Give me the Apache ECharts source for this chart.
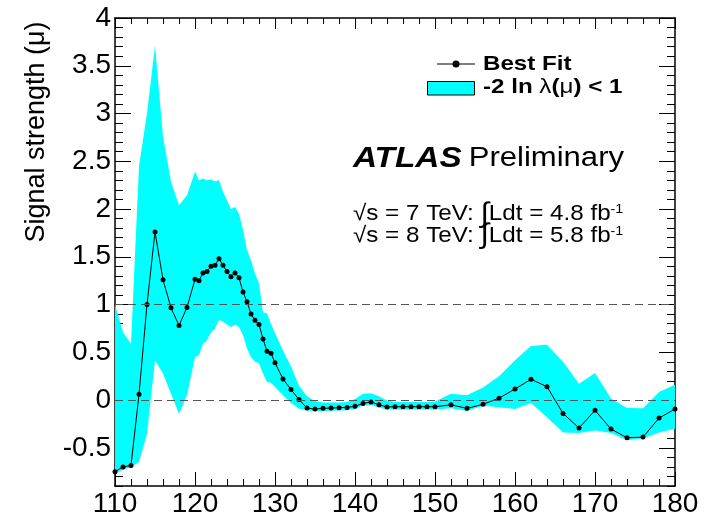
<!DOCTYPE html>
<html>
<head>
<meta charset="utf-8">
<script src="https://cdn.jsdelivr.net/npm/echarts@6/dist/echarts.min.js"></script>
<style>
  html, body { margin: 0; padding: 0; background: #ffffff; }
  #chart { width: 717px; height: 518px; }
</style>
</head>
<body>
<div id="chart"></div>
<script>
// Higgs boson mass hypothesis (GeV)
const mass = [110, 111, 112, 113, 114, 115, 116, 117, 118, 119, 120,
  120.5, 121, 121.5, 122, 122.5, 123, 123.5, 124, 124.5, 125, 125.5, 126, 126.5,
  127, 127.5, 128, 128.5, 129, 129.5, 130,
  131, 132, 133, 134, 135, 136, 137, 138, 139, 140, 141, 142, 143, 144, 145,
  146, 147, 148, 149, 150,
  152, 154, 156, 158, 160, 162, 164, 166, 168, 170, 172, 174, 176, 178, 180];

// Best-fit signal strength mu
const bestFit = [-0.75, -0.70, -0.685, 0.06, 1.0, 1.76, 1.26, 0.965, 0.78, 0.97, 1.265,
  1.25, 1.33, 1.345, 1.40, 1.41, 1.48, 1.41, 1.345, 1.29, 1.33, 1.28, 1.13, 1.03,
  0.90, 0.835, 0.79, 0.64, 0.51, 0.49, 0.39,
  0.22, 0.11, 0.005, -0.084, -0.094, -0.087, -0.084, -0.08, -0.077, -0.066, -0.035, -0.02, -0.05, -0.073, -0.07,
  -0.07, -0.07, -0.07, -0.07, -0.07,
  -0.05, -0.087, -0.045, 0.02, 0.115, 0.217, 0.14, -0.14, -0.293, -0.108, -0.304, -0.395, -0.388, -0.189, -0.094];

// Upper edge of the -2 ln lambda(mu) < 1 interval
const bandUpper = [1.0, 0.71, 0.59, 2.45, 3.0, 3.71, 2.76, 2.285, 2.04, 2.145, 2.39,
  2.30, 2.32, 2.30, 2.31, 2.29, 2.30, 2.18, 2.09, 2.0, 2.02, 1.95, 1.78, 1.57,
  1.46, 1.325, 1.22, 0.92, 0.905, 0.80, 0.70,
  0.52, 0.35, 0.15, 0.04, -0.01, -0.025, -0.025, -0.025, -0.02, 0.01, 0.067, 0.07, 0.04, -0.005, -0.02,
  -0.02, -0.02, -0.02, -0.02, -0.015,
  0.067, 0.05, 0.13, 0.25, 0.416, 0.566, 0.58, 0.40, 0.17, 0.283, 0.015, -0.084, -0.087, 0.084, 0.16];

// Lower edge of the -2 ln lambda(mu) < 1 interval
const bandLower = [-0.77, -0.73, -0.70, -0.65, -0.35, 0.416, 0.277, 0.067, -0.143, 0.05, 0.45,
  0.47, 0.59, 0.625, 0.71, 0.75, 0.84, 0.82, 0.79, 0.765, 0.79, 0.765, 0.68, 0.54,
  0.45, 0.40, 0.385, 0.277, 0.19, 0.18, 0.136,
  0.05, -0.03, -0.09, -0.11, -0.115, -0.115, -0.112, -0.11, -0.108, -0.095, -0.055, -0.05, -0.08, -0.10, -0.10,
  -0.10, -0.10, -0.10, -0.10, -0.10,
  -0.085, -0.115, -0.06, -0.076, -0.094, -0.03, -0.18, -0.34, -0.345, -0.32, -0.345, -0.42, -0.40, -0.34, -0.30];

// Labelled y ticks and the 0.1 minor ticks
const yTickLabels = [-0.5, 0, 0.5, 1, 1.5, 2, 2.5, 3, 3.5, 4];
const yMinorTicks = [];
for (let k = -9; k <= 40; k++) yMinorTicks.push(k / 10);

const Y_MIN = -0.9, Y_MAX = 4;
const X_MIN = 110, X_MAX = 180;
const FONT = '"Liberation Sans", Arial, Helvetica, sans-serif';
const BLACK = '#000000';
const CYAN = '#00ffff';

function xAxisDef(position, majorLen, minorLen, withLabels) {
  return {
    type: 'value', position: position, min: X_MIN, max: X_MAX, interval: 10,
    axisLine: { show: true, onZero: false, lineStyle: { color: BLACK, width: 1.5 } },
    axisTick: { show: true, inside: true, length: majorLen, lineStyle: { color: BLACK, width: 1 } },
    minorTick: { show: true, splitNumber: 5, length: minorLen, lineStyle: { color: BLACK, width: 1 } },
    axisLabel: { show: withLabels, color: BLACK, fontFamily: FONT, fontSize: 28, margin: 4 },
    splitLine: { show: false }, minorSplitLine: { show: false }
  };
}

function yAxisDef(position, values, len, withLine, withLabels) {
  return {
    type: 'value', position: position, min: Y_MIN, max: Y_MAX,
    axisLine: { show: withLine, onZero: false, lineStyle: { color: BLACK, width: 1.5 } },
    axisTick: { show: true, inside: true, length: len, customValues: values,
                lineStyle: { color: BLACK, width: 1 } },
    axisLabel: { show: withLabels, customValues: values, color: BLACK,
                 fontFamily: FONT, fontSize: 28, margin: 4 },
    splitLine: { show: false }
  };
}

// The interval band: one polygon, upper edge left-to-right then lower edge back
function renderBand(params, api) {
  if (params.dataIndex !== 0) return null;
  const pts = [];
  for (let i = 0; i < mass.length; i++) pts.push(api.coord([mass[i], bandUpper[i]]));
  for (let i = mass.length - 1; i >= 0; i--) pts.push(api.coord([mass[i], bandLower[i]]));
  return {
    type: 'polygon',
    shape: { points: pts },
    style: { fill: CYAN, stroke: null }
  };
}

const chart = echarts.init(document.getElementById('chart'), null, { renderer: 'canvas' });

const option = {
  animation: false,
  backgroundColor: '#ffffff',
  grid: { left: 115, right: 42, top: 18, bottom: 32, containLabel: false },
  xAxis: [
    xAxisDef('bottom', 14, 7, true),
    xAxisDef('top', 11, 6, false)
  ],
  yAxis: [
    yAxisDef('left', yTickLabels, 16, true, true),
    yAxisDef('left', yMinorTicks, 8, false, false),
    yAxisDef('right', yTickLabels, 16, true, false),
    yAxisDef('right', yMinorTicks, 8, false, false)
  ],
  series: [
    {
      name: 'interval', type: 'custom', silent: true, z: 1,
      data: mass.map((m, i) => [m, bandLower[i], bandUpper[i]]),
      encode: { x: 0, y: [1, 2] },
      renderItem: renderBand
    },
    {
      name: 'Best Fit', type: 'line',
      data: mass.map((m, i) => [m, bestFit[i]]),
      symbol: 'circle', symbolSize: 5, z: 3,
      lineStyle: { color: BLACK, width: 1 },
      itemStyle: { color: BLACK },
      emphasis: { disabled: true },
      markLine: {
        silent: true, symbol: 'none',
        label: { show: false },
        lineStyle: { color: '#555555', width: 1, type: [8, 5] },
        data: [{ yAxis: 0 }, { yAxis: 1 }]
      }
    }
  ],
  graphic: [
    // y-axis title
    {
      type: 'text', x: 37, y: 132, rotation: Math.PI / 2, z: 10,
      style: { text: 'Signal strength (μ)', font: '27px ' + FONT, fill: BLACK,
               align: 'center', verticalAlign: 'middle',
               textAlign: 'center', textVerticalAlign: 'middle' }
    },
    // legend: best fit
    { type: 'line', z: 10, shape: { x1: 437, y1: 64, x2: 475, y2: 64 },
      style: { stroke: BLACK, lineWidth: 1.2 } },
    { type: 'circle', z: 11, shape: { cx: 456, cy: 64, r: 3.5 }, style: { fill: BLACK } },
    {
      type: 'text', x: 483, y: 64.5, scaleX: 1.15, z: 10,
      style: { text: 'Best Fit', font: 'bold 21px ' + FONT, fill: BLACK,
               align: 'left', verticalAlign: 'middle', textAlign: 'left', textVerticalAlign: 'middle' }
    },
    // legend: interval
    { type: 'rect', z: 10, shape: { x: 427.5, y: 81.5, width: 47, height: 13.5 },
      style: { fill: CYAN, stroke: BLACK, lineWidth: 1 } },
    {
      type: 'text', x: 483, y: 87, scaleX: 1.15, z: 10,
      style: {
        text: '{b|-2 ln }{g|λ}{b|(}{g|μ}{b|) < 1}',
        align: 'left', verticalAlign: 'middle', textAlign: 'left', textVerticalAlign: 'middle',
        rich: {
          b: { fontFamily: FONT, fontWeight: 'bold', fontSize: 21, fill: BLACK },
          g: { fontFamily: FONT, fontSize: 21, fill: BLACK }
        }
      }
    },
    // experiment label
    {
      type: 'text', x: 353, y: 158.5, scaleX: 1.15, z: 10,
      style: {
        text: '{a|ATLAS}{sp| }{p|Preliminary}',
        align: 'left', verticalAlign: 'middle', textAlign: 'left', textVerticalAlign: 'middle',
        rich: {
          a: { fontFamily: FONT, fontWeight: 'bold', fontStyle: 'italic', fontSize: 29, fill: BLACK },
          sp: { fontFamily: FONT, fontSize: 22, fill: BLACK },
          p: { fontFamily: FONT, fontSize: 27, fill: BLACK }
        }
      }
    },
    // luminosity lines
    {
      type: 'text', x: 353, y: 214, scaleX: 1.1, z: 10,
      style: {
        text: '{n|√s = 7 TeV: }{i|∫}{n|Ldt = 4.8 fb}{s|-1}',
        align: 'left', verticalAlign: 'middle', textAlign: 'left', textVerticalAlign: 'middle',
        rich: {
          n: { fontFamily: FONT, fontSize: 22, lineHeight: 22, fill: BLACK },
          i: { fontFamily: FONT, fontSize: 28, lineHeight: 22, fill: BLACK },
          s: { fontFamily: FONT, fontSize: 13, lineHeight: 22, verticalAlign: 'top', fill: BLACK }
        }
      }
    },
    {
      type: 'text', x: 353, y: 235.5, scaleX: 1.1, z: 10,
      style: {
        text: '{n|√s = 8 TeV: }{i|∫}{n|Ldt = 5.8 fb}{s|-1}',
        align: 'left', verticalAlign: 'middle', textAlign: 'left', textVerticalAlign: 'middle',
        rich: {
          n: { fontFamily: FONT, fontSize: 22, lineHeight: 22, fill: BLACK },
          i: { fontFamily: FONT, fontSize: 28, lineHeight: 22, fill: BLACK },
          s: { fontFamily: FONT, fontSize: 13, lineHeight: 22, verticalAlign: 'top', fill: BLACK }
        }
      }
    }
  ]
};

chart.setOption(option);
</script>
</body>
</html>
